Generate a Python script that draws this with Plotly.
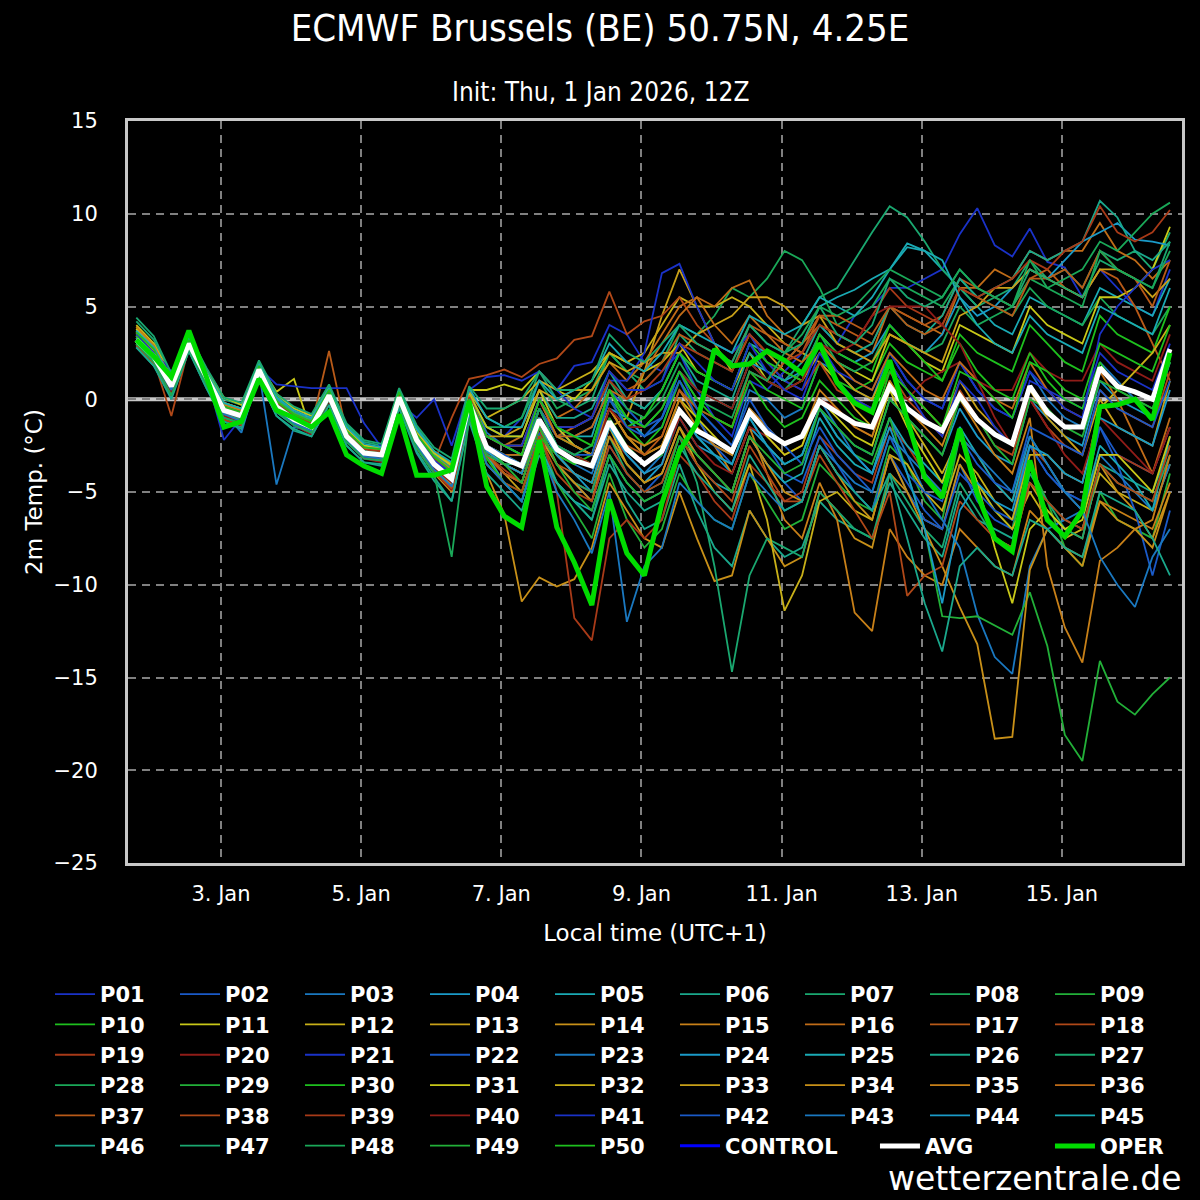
import pandas as pd
import plotly.graph_objects as go

# ECMWF ensemble 2m temperature, Brussels, init 1 Jan 2026 12Z (6-hourly, local time)
times = pd.date_range("2026-01-01 19:00", periods=60, freq="6h")

p01 = [3.4,2.5,0.9,3.1, 1.3,-0.5,-1.0,1.8, -0.2,-0.9,-1.3,0.5, -1.8,-2.7,-2.9,0.3, -1.9,-3.2,-4.0,0.2, -1.5,-2.0,-1.0,1.0, 0.5,1.8,2.0,4.0, 3.5,2.0,1.5,2.5, 0.5,-1.0,-2.0,1.0, 0.5,1.5,2.5,4.0, 3.0,4.5,5.0,6.0, 6.0,6.5,7.0,8.9, 10.3,8.3,7.7,9.2, 7.4,7.1,5.5,7.0, 6.0,5.0,4.5,7.0]
p02 = [3.0,2.2,0.5,2.9, 1.0,-1.2,-1.3,1.4, -0.7,-1.4,-1.8,0.0, -2.3,-3.2,-3.3,0.0, -2.5,-3.8,-4.8,-0.5, -3.0,-4.0,-4.5,-1.8, -3.5,-4.5,-5.5,-2.5, -4.0,-5.0,-4.0,-1.5, -3.0,-4.0,-5.0,-2.0, -3.5,-4.5,-5.5,-2.5, -4.0,-5.0,-6.0,-3.0, -4.5,-6.0,-7.0,-3.5, -5.5,-6.5,-7.0,-2.5, -4.0,-5.0,-5.5,-1.5, -3.0,-3.5,-4.0,-1.5]
p03 = [3.3,2.4,0.8,3.0, 1.1,-0.7,-1.8,1.5, -4.6,-1.5,-1.7,0.0, -2.1,-3.0,-3.1,0.2, -2.0,-3.3,-4.0,0.3, -1.8,-2.5,-3.0,-0.5, -2.0,-2.5,-3.0,0.0, -1.0,-2.0,-1.5,1.0, -0.5,-1.5,-2.5,0.5, 0.0,-1.0,-0.5,2.0, 1.5,0.5,0.0,2.5, 1.0,0.0,-0.5,2.0, 0.5,-0.5,-1.0,1.5, 0.0,-1.0,-1.5,2.0, 1.0,0.0,-1.0,2.5]
p04 = [3.1,2.1,0.4,2.8, 0.9,-0.8,-1.1,1.4, -0.5,-1.2,-1.6,0.1, -2.2,-3.1,-3.2,-0.1, -2.3,-3.6,-4.5,-0.5, -2.8,-3.5,-4.0,-1.5, -3.0,-4.0,-5.0,-2.0, -3.5,-4.5,-3.5,-1.0, -2.5,-3.0,-4.0,-1.5, -2.5,-3.5,-3.0,-0.5, -1.5,-2.5,-3.0,0.0, -1.0,-2.0,-3.0,-0.5, -2.0,-3.0,-3.5,0.0, -1.0,-2.0,-2.5,1.0, 0.0,-0.5,-1.0,2.0]
p05 = [3.6,2.7,1.1,3.3, 1.5,-0.3,-0.6,1.9, 0.0,-0.7,-1.1,0.5, -1.6,-2.5,-2.6,0.4, -1.8,-3.0,-3.8,0.4, -2.0,-2.5,-2.5,0.0, -1.5,-2.0,-2.0,1.0, 0.0,-0.5,0.5,2.5, 1.5,1.0,0.5,3.0, 2.5,2.0,3.0,5.0, 5.5,5.9,6.5,7.0, 8.4,8.0,7.0,6.0, 5.0,4.0,3.5,5.5, 5.0,4.5,4.0,6.0, 5.5,5.0,4.5,6.5]
p06 = [2.8,1.8,0.1,2.6, 0.6,-1.2,-1.5,1.1, -0.9,-1.7,-2.0,-0.3, -2.5,-3.4,-3.5,-0.4, -2.8,-4.2,-5.5,-1.0, -3.5,-4.5,-5.5,-2.5, -4.5,-5.5,-6.5,-3.0, -5.5,-7.0,-6.5,-3.5, -6.0,-8.0,-9.0,-6.0, -7.5,-8.5,-8.0,-5.5, -6.5,-7.0,-7.5,-4.5, -6.0,-7.5,-8.5,-5.0, -6.5,-7.0,-7.5,-4.5, -5.5,-6.5,-7.0,-3.5, -4.0,-4.5,-5.0,-2.5]
p07 = [4.2,3.2,1.3,3.4, 1.6,0.0,-0.3,2.0, 0.2,-0.5,-0.9,0.7, -1.4,-2.3,-2.5,0.5, -1.5,-2.8,-3.5,0.5, -1.0,-1.5,-1.0,1.5, 0.0,-0.5,0.0,2.5, 1.5,0.5,1.0,3.5, 2.5,2.0,1.5,4.0, 3.0,2.5,4.0,5.5, 6.0,7.5,9.0,10.4, 9.8,8.5,7.0,6.0, 5.0,5.5,6.0,7.5, 6.5,7.0,6.0,8.0, 7.5,8.0,7.0,9.0]
p08 = [3.0,2.0,0.3,2.7, 0.8,-1.0,-1.3,1.3, -0.6,-1.3,-1.7,0.1, -2.2,-3.0,-3.1,0.0, -2.1,-3.2,-3.8,0.0, -1.5,-1.5,-1.0,1.0, -0.5,0.0,0.5,2.5, 1.5,1.0,2.0,4.0, 3.5,4.5,6.0,5.5, 6.5,8.0,7.5,6.0, 4.0,4.5,5.0,6.5, 6.0,5.5,5.0,6.5, 5.5,5.0,4.5,6.0, 5.0,4.5,4.0,5.5, 4.5,4.0,3.5,5.0]
p09 = [3.3,2.3,0.6,3.0, 1.2,-0.7,-1.0,1.6, -0.3,-1.0,-1.4,0.3, -2.0,-2.9,-3.1,0.0, -2.4,-3.8,-4.6,-0.5, -3.5,-4.5,-5.5,-2.0, -4.5,-6.0,-7.5,-4.0, -6.5,-8.0,-7.0,-4.0, -5.5,-6.5,-7.0,-4.0, -5.5,-7.0,-6.5,-3.5, -4.5,-5.5,-6.0,-2.5, -3.5,-5.5,-6.5,-2.0, -4.5,-6.0,-7.0,-3.5, -5.5,-8.0,-9.0,-5.0, -6.5,-7.0,-7.5,-4.0]
p10 = [3.5,2.6,0.8,3.1, 1.4,-0.4,-0.7,1.8, -0.2,-0.9,-1.3,0.4, -1.9,-2.8,-3.0,0.2, -2.0,-3.4,-4.2,-0.3, -2.5,-3.0,-3.5,-0.5, -2.0,-2.5,-3.0,0.5, -1.5,-2.5,-1.5,1.0, -0.5,-1.0,-1.5,1.5, 0.5,0.0,-0.5,2.0, 1.0,0.5,1.0,3.0, 2.0,1.5,1.0,3.5, 2.5,2.0,1.5,4.0, 3.0,2.0,1.5,4.5, 3.5,3.0,2.5,5.0]
p11 = [4.0,3.0,1.2,3.3, 1.6,0.1,-0.3,1.9, 0.4,1.1,-1.8,0.3, -1.8,-2.7,-2.9,0.3, -1.9,-3.0,-3.5,0.5, 0.5,0.8,0.5,1.5, 0.5,0.0,1.0,2.5, 2.0,1.5,2.0,3.0, 1.5,1.0,0.5,2.5, 1.0,0.5,1.0,3.0, 2.0,1.5,1.0,3.5, 3.0,2.0,1.5,4.0, 3.5,3.0,2.5,5.0, 4.0,3.5,3.0,5.5, 5.5,6.0,7.0,9.3]
p12 = [3.8,2.8,1.0,3.2, 1.5,-0.2,-0.5,1.8, -0.1,-0.8,-1.2,0.5, -1.7,-2.6,-2.8,0.3, -1.8,-2.8,-3.5,0.4, -1.0,-0.5,0.0,1.0, 0.5,1.0,1.5,2.5, 2.0,2.5,4.0,5.5, 5.0,5.0,5.5,5.0, 4.0,3.0,2.5,2.0, 1.0,-0.5,-1.5,1.0, -1.0,-2.5,-4.0,-2.0, -4.5,-6.0,-7.0,-5.0, -6.5,-7.5,-7.0,-4.0, -5.0,-5.5,-6.0,-3.5]
p13 = [3.7,2.7,0.9,3.1, 1.3,-0.5,-0.8,1.7, -0.3,-1.0,-1.4,0.3, -1.9,-2.8,-2.9,0.2, -2.1,-3.5,-4.3,-0.3, -3.0,-4.0,-5.0,-2.0, -3.5,-4.5,-5.0,-1.5, -1.0,1.5,4.5,7.0, 5.0,3.0,1.5,3.5, 2.5,1.5,1.0,2.5, 1.5,0.5,0.0,2.0, 0.5,-0.5,-1.5,1.0, -0.5,-1.5,-2.5,0.5, -1.0,-2.0,-3.0,0.0, -1.5,-2.0,-2.5,1.0]
p14 = [3.9,2.9,1.0,3.2, 1.4,-0.4,-0.8,1.7, -0.3,-1.0,-1.5,0.3, -2.0,-2.9,-3.2,-0.2, -2.6,-4.0,-5.0,-1.0, -4.0,-6.2,-10.9,-9.6, -10.1,-9.7,-8.0,-4.5, -6.0,-7.5,-8.0,-5.0, -7.5,-9.8,-9.5,-6.0, -7.5,-9.0,-8.5,-5.0, -6.0,-7.5,-8.0,-4.0, -5.0,-6.5,-7.0,-3.5, -5.0,-7.5,-8.0,-4.5, -6.0,-7.0,-7.5,-3.5, -5.0,-6.0,-7.5,-5.0]
p15 = [3.6,2.5,0.7,3.0, 1.1,-0.7,-1.1,1.5, -0.5,-1.2,-1.6,0.1, -2.1,-3.0,-3.2,0.0, -2.4,-3.8,-4.6,-0.6, -3.0,-3.5,-4.0,-1.0, -2.5,-3.0,-3.5,-0.5, -2.0,-2.5,-2.0,0.5, -1.0,-2.5,-4.0,-1.5, -4.0,-6.5,-7.5,-4.5, -6.5,-11.5,-12.5,-7.0, -8.5,-9.5,-10.0,-7.0, -8.0,-9.0,-9.5,-6.0, -7.0,-8.0,-8.5,-5.5, -6.0,-6.5,-7.0,-4.5]
p16 = [3.4,2.4,0.6,3.0, 1.2,-0.6,-0.9,1.6, -0.4,-1.1,-1.5,0.2, -2.0,-2.9,-3.0,0.1, -2.2,-3.4,-4.1,-0.1, -2.0,-2.5,-2.0,0.5, -1.0,-0.5,0.5,2.0, 1.0,2.0,3.5,5.0, 5.5,5.0,6.0,6.4, 4.5,3.5,3.0,4.0, 3.5,3.0,2.5,5.0, 4.5,4.0,3.5,6.0, 6.0,7.0,6.5,8.0, 7.5,8.0,8.0,9.5, 8.0,7.5,6.5,7.5]
p17 = [3.5,2.6,0.8,3.1, 1.3,-0.5,-0.8,1.7, -0.3,-1.0,-1.4,2.6, -1.8,-2.7,-2.9,0.3, -2.0,-3.3,-4.0,0.0, -2.5,-3.0,-3.5,-0.5, -2.0,-1.5,-1.0,1.5, 0.5,1.0,2.0,3.5, 3.0,2.5,2.0,4.0, 3.5,3.0,2.5,4.5, 4.0,3.5,3.0,5.0, 4.5,4.0,4.5,6.5, 6.0,5.5,5.0,6.5, 7.0,6.0,5.5,7.0, 6.5,5.0,3.0,1.0]
p18 = [3.0,2.1,-0.9,2.8, 0.8,-1.0,-1.3,1.4, -0.6,-1.3,-1.8,0.0, -2.2,-3.1,-3.2,-0.1, -2.3,-3.4,-1.0,1.1, 1.3,1.6,1.2,1.9, 2.2,3.2,3.4,5.8, 3.5,4.2,4.5,5.5, 4.0,3.0,2.5,3.5, 2.0,1.0,0.5,2.0, 0.5,0.0,-0.5,1.5, 0.0,-1.0,-2.0,0.5, -1.0,-2.5,-3.0,0.0, -1.5,-2.5,-3.0,0.5, -0.5,-1.0,-1.5,1.5]
p19 = [3.2,2.2,0.5,2.9, 1.1,-0.8,-1.1,1.5, -0.5,-1.2,-1.6,0.1, -2.1,-3.0,-3.1,0.0, -2.4,-3.6,-4.4,-0.6, -3.0,-3.8,-4.5,-1.5, -5.0,-11.8,-13.0,-7.5, -6.5,-7.5,-6.5,-3.0, -4.0,-5.5,-6.5,-3.5, -4.5,-5.5,-5.0,-2.0, -3.0,-4.0,-4.5,-1.5, -2.5,-4.0,-5.0,-2.0, -3.0,-4.5,-5.5,-2.5, -3.5,-5.0,-6.0,-3.0, -3.0,-3.5,-4.0,-1.5]
p20 = [3.1,2.0,0.2,2.7, 0.7,-1.1,-1.4,1.3, -0.6,-1.4,-1.9,-0.1, -2.3,-3.2,-3.4,-0.2, -2.5,-3.9,-4.9,-0.8, -3.2,-4.0,-4.5,-1.5, -3.5,-4.5,-5.0,-2.0, -3.0,-4.0,-3.5,-1.0, -2.5,-3.5,-4.0,-1.5, -2.0,-3.0,-2.5,0.0, -0.5,-1.5,-2.0,0.5, 0.0,1.0,1.5,2.0, 1.0,0.5,0.5,2.5, 1.5,1.0,1.0,3.0, 2.0,1.5,1.0,3.5]
p21 = [3.4,2.6,1.5,3.0, 1.3,-0.4,-0.7,1.7, 0.8,0.7,0.6,0.6, 0.6,-1.3,-2.6,-0.2, -1.0,0.0,-2.5,0.5, 1.2,1.3,1.0,1.5, 0.5,-0.5,-1.0,1.0, 1.0,2.5,6.8,7.3, 5.0,3.0,2.5,3.5, 2.0,1.0,0.5,3.0, 1.5,1.0,0.5,2.5, 1.0,0.0,-0.5,2.0, 0.5,-0.5,-1.0,1.5, 0.5,0.0,-0.5,2.5, 1.5,1.0,0.5,3.0]
p22 = [3.3,2.4,0.7,3.1, 1.2,-0.6,-1.0,1.6, -0.4,-1.1,-1.5,0.2, -2.0,-2.9,-3.0,0.1, -2.1,-3.3,-4.2,-0.2, -2.5,-3.0,-3.0,-0.5, -2.0,-2.0,-1.5,0.5, -0.5,-1.5,-1.0,1.0, -1.0,-2.5,-3.5,-1.0, -2.5,-4.0,-4.5,-2.0, -3.5,-5.0,-6.0,-3.0, -5.0,-6.5,-7.0,-4.0, -5.0,-6.0,-6.5,-2.5, -4.0,-5.0,-5.5,-1.5, -3.5,-6.0,-9.5,-6.0]
p23 = [3.0,2.1,0.4,2.8, 0.9,-0.9,-1.2,1.4, -0.7,-1.4,-1.8,0.0, -2.3,-3.1,-3.3,-0.1, -2.5,-3.8,-4.6,-0.6, -3.0,-3.5,-4.0,-1.0, -3.0,-3.5,-4.0,-1.5, -3.0,-4.0,-3.0,-0.5, -2.0,-2.5,-3.0,-0.5, -1.5,-2.5,-2.0,0.0, -1.5,-3.0,-4.0,-1.0, -3.0,-5.0,-6.5,-8.0, -11.6,-13.9,-14.8,-9.0, -7.0,-6.5,-6.0,-3.0, -4.0,-5.0,-6.0,-3.5]
p24 = [3.6,2.7,1.0,3.2, 1.4,-0.4,-0.7,1.8, -0.2,-0.9,-1.3,0.4, -1.8,-2.7,-2.8,0.3, -2.0,-3.2,-3.9,0.1, -2.0,-2.5,-3.0,0.0, -1.5,-2.5,-3.0,-0.5, -1.0,-2.0,-1.0,1.5, 0.5,0.0,-0.5,2.0, 1.5,1.0,1.5,3.5, 2.5,2.0,2.5,4.0, 3.0,2.5,3.5,5.5, 4.5,5.0,6.0,7.0, 6.5,7.5,8.5,9.0, 9.5,8.6,8.5,8.3]
p25 = [2.9,2.0,0.3,2.7, 0.8,-1.0,-1.3,1.3, -0.6,-1.3,-1.8,0.0, -2.2,-3.1,-3.2,-0.2, -2.4,-3.7,-4.6,-0.5, -3.0,-4.5,-5.5,-2.5, -4.5,-5.5,-6.0,-3.0, -4.5,-5.5,-5.0,-2.0, -3.5,-4.5,-5.0,-2.0, -3.5,-4.5,-4.0,-1.0, -2.5,-3.5,-4.0,-1.0, -2.5,-3.5,-4.5,-1.5, -3.0,-4.5,-5.5,-2.0, -3.5,-5.0,-6.0,-2.5, -3.5,-4.5,-6.0,-2.0]
p26 = [3.7,2.8,1.1,3.3, 1.5,-0.3,-0.6,1.9, 0.0,-0.7,-1.1,0.5, -1.6,-2.5,-2.7,0.4, -1.7,-3.0,-3.7,0.3, -1.5,-2.0,-2.0,0.5, -1.0,-1.0,-0.5,1.5, 0.0,-0.5,0.5,2.5, 1.0,0.5,0.0,2.5, 1.5,1.0,2.0,4.0, 3.0,2.5,3.0,5.0, 4.0,3.5,4.5,6.5, 5.5,6.0,6.5,8.0, 7.5,8.0,8.5,10.7, 9.8,8.0,7.5,8.5]
p27 = [3.1,2.2,0.5,2.9, 1.0,-0.8,-1.1,1.5, -0.5,-1.2,-1.6,0.1, -2.1,-3.0,-3.2,0.0, -2.3,-3.6,-4.5,-0.5, -3.0,-3.5,-4.0,-1.5, -3.5,-4.5,-5.0,-2.0, -4.0,-5.0,-4.5,-2.0, -4.5,-9.0,-14.7,-9.5, -7.5,-8.0,-8.5,-5.0, -6.0,-7.0,-7.5,-4.0, -5.5,-7.0,-8.0,-4.5, -6.0,-7.5,-8.0,-4.0, -5.5,-7.0,-7.5,-3.5, -4.5,-5.0,-5.5,-3.0]
p28 = [3.3,2.3,0.6,2.9, 1.1,-0.7,-1.0,1.5, -0.4,-1.1,-1.5,0.2, -2.0,-2.9,-3.0,0.1, -2.2,-3.5,-4.3,-0.2, -2.5,-3.0,-3.0,0.0, -1.5,-1.5,-1.0,1.0, -0.5,-1.0,0.0,2.0, 0.5,0.0,-0.5,2.0, 1.0,0.5,1.5,3.5, 2.0,1.5,2.0,4.0, 3.0,2.5,3.0,5.0, 4.0,4.5,5.0,6.5, 6.0,6.5,7.0,8.5, 8.0,9.0,10.0,10.6]
p29 = [3.4,2.5,0.8,3.1, 1.3,-0.5,-0.8,1.7, -0.3,-1.0,-1.4,0.3, -1.9,-2.8,-2.9,0.2, -2.1,-3.4,-4.2,-0.2, -2.5,-3.0,-3.5,-0.5, -2.5,-3.0,-3.5,-1.0, -2.5,-3.5,-3.0,-0.5, -2.0,-3.0,-3.5,-1.0, -2.5,-3.5,-3.0,-0.5, -2.0,-3.0,-3.5,-1.0, -4.0,-7.0,-11.7,-11.8, -11.7,-12.2,-12.7,-10.4, -13.3,-18.1,-19.5,-14.1, -16.3,-17.0,-15.9,-15.0]
p30 = [3.0,2.0,0.3,2.7, 0.9,-0.9,-1.2,1.4, -0.6,-1.3,-1.7,0.1, -2.2,-3.1,-3.2,-0.1, -2.5,-3.9,-4.7,-0.7, -3.2,-4.5,-5.0,-2.0, -3.0,-3.5,-3.0,0.0, -1.5,-1.0,0.5,2.5, 1.5,1.0,0.5,3.0, 2.0,1.5,1.0,3.5, 2.5,2.0,1.5,4.0, 3.0,2.0,1.0,3.0, 1.5,0.5,0.0,2.5, 1.0,0.0,-0.5,2.0, 0.5,0.0,-0.5,2.0]
p31 = [3.8,2.8,1.0,3.2, 1.5,-0.2,-0.5,1.8, 0.3,-0.5,-0.9,0.6, -1.6,-2.5,-2.6,0.4, -1.8,-2.9,-3.6,0.3, -1.5,-2.0,-2.0,0.5, -1.5,-2.5,-3.0,-0.5, -2.0,-3.0,-2.5,0.0, -1.0,-2.0,-3.0,-0.5, -2.0,-3.0,-2.5,0.0, -1.0,-2.0,-2.5,0.5, -1.5,-3.0,-4.5,-2.0, -4.5,-8.0,-11.0,-7.0, -6.0,-7.0,-6.5,-3.0, -3.0,-4.0,-5.0,-2.0]
p32 = [3.6,2.6,0.8,3.1, 1.3,-0.5,-0.9,1.6, -0.4,-1.1,-1.5,0.2, -2.0,-2.9,-3.1,0.0, -2.2,-3.5,-4.4,-0.4, -3.0,-3.5,-4.0,-1.0, -3.0,-4.0,-4.5,-1.5, -3.5,-4.5,-4.0,-1.5, -3.5,-5.0,-6.0,-3.5, -6.5,-11.4,-9.5,-5.5, -5.0,-6.0,-6.5,-3.0, -3.5,-5.0,-6.0,-3.0, -4.0,-5.5,-6.5,-3.0, -3.0,-4.0,-4.5,-0.5, 0.5,1.5,2.5,4.0]
p33 = [3.5,2.5,0.7,3.0, 1.2,-0.6,-1.0,1.6, -0.5,-1.2,-1.6,0.1, -2.1,-3.0,-3.1,0.1, -2.3,-3.5,-4.3,-0.3, -2.0,-2.0,-1.5,0.5, 0.0,0.5,0.5,2.0, 1.5,2.0,2.5,2.5, 3.5,4.0,4.5,5.5, 5.5,5.0,4.0,4.5, 3.0,2.5,2.0,3.5, 3.0,2.5,2.0,4.5, 5.0,6.0,6.0,7.0, 6.5,6.0,5.5,7.0, 7.0,6.5,5.5,6.5]
p34 = [3.2,2.2,0.5,2.9, 1.0,-0.8,-1.2,1.5, -0.5,-1.2,-1.6,0.1, -2.1,-3.0,-3.2,-0.1, -2.4,-3.7,-4.6,-0.6, -3.0,-4.0,-4.5,-1.5, -3.5,-4.5,-5.5,-2.0, -3.5,-4.5,-4.0,-1.5, -3.0,-4.0,-5.0,-2.0, -3.5,-5.0,-5.5,-2.5, -4.0,-5.5,-6.5,-3.0, -5.0,-7.0,-9.0,-11.2, -13.2,-18.3,-18.2,-9.2, -7.0,-8.0,-9.0,-5.5, -6.5,-7.0,-8.0,-5.0]
p35 = [3.9,2.9,1.1,3.3, 1.5,-0.3,-0.6,1.8, -0.1,-0.8,-1.2,0.5, -1.7,-2.6,-2.8,0.3, -1.9,-3.1,-3.8,0.2, -2.0,-2.5,-2.5,0.0, -2.0,-2.5,-3.0,-0.5, -2.0,-3.0,-2.5,0.0, -1.5,-2.5,-3.0,-0.5, -1.5,-2.5,-2.0,0.5, -0.5,-1.5,-2.0,1.0, -0.5,-1.5,-2.5,0.0, -1.5,-3.0,-4.0,-1.0, -9.0,-12.3,-14.2,-8.7, -8.0,-7.0,-6.5,-3.0]
p36 = [3.4,2.4,0.6,3.0, 1.2,-0.6,-0.9,1.6, -0.4,-1.1,-1.5,0.2, -2.0,-2.9,-3.0,0.1, -2.2,-3.5,-4.3,-0.2, -2.5,-3.0,-3.0,0.0, -2.0,-2.0,-1.5,0.5, 0.0,1.5,3.0,4.5, 5.5,4.0,3.0,4.5, 3.5,2.5,2.0,3.0, 2.0,1.0,0.5,2.5, 1.5,0.5,0.0,2.0, 1.0,0.0,-0.5,2.0, 0.5,-0.5,-1.0,1.5, 0.0,-2.0,-4.0,-1.0]
p37 = [3.3,2.3,0.6,3.0, 1.2,-0.7,-1.0,1.5, -0.4,-1.1,-1.5,0.2, -2.0,-2.9,-3.1,0.0, -2.3,-3.6,-4.4,-0.4, -3.0,-4.0,-4.5,-1.5, -3.5,-4.0,-4.5,-1.5, -2.5,-3.0,-2.0,0.5, -0.5,-1.0,-1.5,1.5, 1.0,2.0,3.0,4.5, 4.5,4.0,3.5,5.0, 4.0,3.5,4.0,6.0, 5.5,5.0,4.5,6.5, 6.5,7.0,6.0,8.0, 7.0,6.5,5.0,7.5]
p38 = [2.9,1.9,0.2,2.7, 0.7,-1.1,-1.4,1.3, -0.6,-1.3,-1.8,0.0, -2.2,-3.1,-3.3,-0.2, -2.5,-3.9,-4.8,-0.8, -3.5,-4.5,-5.0,-2.0, -4.0,-5.0,-5.5,-2.5, -4.0,-5.0,-4.5,-2.0, -3.5,-4.5,-5.5,-2.5, -4.0,-5.5,-5.5,-3.0, -4.5,-6.0,-7.5,-5.0, -10.6,-9.5,-9.0,-5.5, -6.5,-7.5,-8.0,-4.5, -5.5,-6.5,-7.0,-3.5, -4.5,-5.0,-5.5,-2.5]
p39 = [3.6,2.7,0.9,3.1, 1.4,-0.4,-0.7,1.8, -0.2,-0.9,-1.3,0.4, -1.8,-2.7,-2.8,0.3, -1.9,-3.2,-3.9,0.1, -2.0,-2.5,-2.5,0.0, -1.5,-1.5,-1.0,1.0, 0.0,0.5,1.5,3.0, 2.5,2.0,1.5,3.5, 2.5,2.0,2.5,4.0, 3.5,3.0,4.5,6.0, 5.0,4.5,4.0,6.0, 5.5,6.0,6.5,7.5, 7.0,8.0,8.5,10.4, 9.0,8.5,9.0,10.2]
p40 = [3.1,2.1,0.4,2.8, 0.9,-0.9,-1.2,1.4, -0.6,-1.3,-1.7,0.1, -2.2,-3.1,-3.2,-0.1, -2.4,-3.7,-4.5,-0.5, -2.8,-3.5,-4.0,-1.0, -2.5,-3.0,-3.5,-0.5, -1.5,-1.5,-0.5,1.5, 0.5,0.0,-0.5,2.0, 1.0,0.5,1.0,3.0, 2.5,3.0,4.5,5.0, 5.0,5.0,4.0,3.0, 1.0,-1.0,-2.5,0.0, -1.5,-3.0,-4.0,-1.0, -2.0,-3.0,-4.0,-1.5]
p41 = [3.5,2.5,0.8,3.1, 1.3,-2.2,-1.0,1.6, -0.3,-1.0,-1.4,0.3, -1.9,-2.8,-3.0,0.1, -2.0,-3.3,-4.0,0.0, -2.0,-2.5,-2.5,0.0, -1.5,-1.5,-1.0,1.5, 0.5,0.5,1.0,3.0, 2.0,1.0,0.5,3.0, 1.5,0.5,0.0,2.5, 1.0,0.0,-0.5,2.0, 0.5,-1.0,-2.0,1.0, 0.0,-1.5,-2.5,1.0, 0.5,-0.5,-1.0,3.5, 5.0,6.0,7.0,7.5]
p42 = [3.2,2.3,0.6,3.0, 1.1,-0.7,-1.0,1.5, -0.5,-1.2,-1.6,0.1, -2.1,-3.0,-3.1,0.0, -2.3,-3.6,-4.4,-0.4, -2.5,-3.0,-3.5,-0.5, -2.5,-3.0,-3.0,0.0, -1.5,-2.0,-1.0,1.5, -0.5,-1.5,-2.5,0.0, -1.5,-2.5,-3.5,-1.5, -3.0,-4.0,-5.0,-2.0, -4.0,-5.0,-5.5,-2.0, -3.5,-4.5,-5.0,-1.5, -2.0,-2.5,-3.0,0.5, -0.5,-1.0,-1.5,1.0]
p43 = [3.1,2.1,0.5,2.8, 1.0,-0.8,-1.2,1.4, -0.6,-1.3,-1.7,0.1, -2.2,-3.1,-3.2,-0.1, -2.5,-3.8,-4.7,-0.8, -3.5,-4.5,-5.5,-2.5, -5.0,-6.5,-8.3,-5.0, -12.0,-9.0,-8.0,-4.5, -5.5,-6.5,-7.0,-4.0, -5.0,-6.0,-5.5,-2.5, -3.5,-4.5,-5.0,-2.0, -3.0,-4.0,-5.0,-2.0, -3.0,-4.0,-5.0,-2.0, -3.5,-5.0,-6.0,-8.5, -10.0,-11.2,-8.5,-7.0]
p44 = [3.3,2.4,0.7,3.0, 1.2,-0.6,-0.9,1.6, -0.4,-1.1,-1.5,0.2, -2.0,-2.9,-3.0,0.1, -2.2,-3.5,-4.3,-0.3, -2.8,-3.5,-4.0,-1.0, -3.0,-4.0,-4.5,-1.5, -3.0,-4.0,-3.5,-0.5, -2.0,-3.0,-3.5,-1.0, -2.5,-3.5,-3.0,-0.5, -2.0,-3.0,-4.0,-1.5, -4.0,-7.0,-11.0,-6.0, -4.5,-5.5,-6.0,-2.5, -3.0,-4.0,-4.5,-1.0, -1.5,-2.0,-2.5,0.5]
p45 = [3.7,2.8,1.1,3.3, 1.5,-0.2,-0.5,1.9, 0.1,-0.6,-1.0,0.6, -1.5,-2.4,-2.6,0.5, -1.6,-2.8,-3.4,0.6, -1.0,-1.5,-1.5,1.0, 0.0,0.5,1.0,3.0, 2.0,1.5,2.5,4.0, 3.5,3.0,2.5,4.5, 4.0,3.5,4.0,5.5, 5.0,4.5,5.5,7.0, 8.2,8.0,7.5,5.5, 4.0,3.0,2.5,4.5, 3.5,3.0,2.5,5.0, 4.5,4.0,3.5,6.0]
p46 = [2.8,1.8,0.0,2.6, 0.6,-1.2,-1.6,1.1, -0.9,-1.6,-2.0,-0.3, -2.5,-3.4,-3.6,-0.5, -2.9,-4.4,-5.5,-1.2, -4.0,-5.0,-6.0,-3.0, -4.5,-5.5,-6.5,-3.5, -5.0,-6.0,-5.5,-2.5, -4.0,-5.0,-6.0,-3.0, -4.5,-6.0,-5.5,-2.5, -4.0,-5.0,-6.0,-4.0, -7.5,-11.0,-13.6,-9.0, -8.0,-9.0,-9.5,-6.5, -7.0,-8.0,-8.5,-5.0, -5.5,-6.0,-7.5,-9.5]
p47 = [4.4,3.4,1.4,3.5, 1.7,0.1,-0.2,2.1, 0.3,-0.4,-0.8,0.8, -1.3,-2.2,-2.4,0.6, -1.4,-2.6,-3.2,0.7, -0.5,-0.5,0.0,1.5, 0.5,0.5,1.0,3.5, 2.5,2.0,3.0,4.0, 3.0,2.5,2.0,4.0, 3.0,2.5,3.0,5.0, 3.5,3.0,4.0,6.5, 5.5,5.0,5.5,7.0, 6.0,5.5,5.0,7.0, 6.5,6.0,5.5,7.5, 7.0,6.5,6.0,8.5]
p48 = [3.0,2.0,0.2,2.7, 0.8,-1.0,-1.3,1.3, -0.7,-1.4,-1.8,0.0, -2.3,-3.2,-3.3,-0.2, -2.6,-4.0,-8.5,-1.0, -3.0,-3.5,-3.5,-0.5, -2.5,-3.0,-2.5,0.5, -1.0,-1.5,-0.5,1.5, 0.0,-0.5,-1.0,1.5, 1.0,2.5,3.5,5.0, 4.5,5.0,6.0,7.0, 6.5,6.0,5.5,7.0, 6.0,5.5,5.0,7.5, 6.0,5.5,5.0,8.0, 7.0,6.5,6.0,8.0]
p49 = [3.4,2.4,0.7,3.0, 1.2,-0.6,-0.9,1.6, -0.3,-1.0,-1.4,0.3, -1.9,-2.8,-3.0,0.1, -2.1,-3.4,-4.2,-0.2, -2.5,-3.5,-4.5,-1.5, -3.5,-5.0,-6.0,-3.0, -4.5,-5.5,-5.0,-2.0, -3.0,-4.0,-5.0,-2.0, -3.0,-4.0,-3.5,-0.5, -1.5,-2.5,-3.0,0.0, -1.0,-2.0,-3.0,0.0, -1.0,-2.5,-3.5,0.0, -0.5,-1.5,-2.0,1.0, 0.5,0.0,-0.5,2.0]
p50 = [3.6,2.7,0.9,3.2, 1.4,-0.4,-0.7,1.8, -0.1,-0.8,-1.2,0.5, -1.7,-2.6,-2.7,0.4, -1.9,-3.1,-3.9,0.0, -2.0,-2.5,-3.0,0.0, -1.5,-2.0,-2.5,0.5, -1.0,-1.5,-0.5,1.5, 0.0,-1.0,-1.5,1.0, -0.5,-1.5,-1.0,1.0, 0.0,-1.0,-1.5,1.5, 0.5,-0.5,-1.5,1.5, 1.0,0.0,-1.0,2.0, 1.5,0.5,0.0,3.0, 2.5,2.0,1.5,4.0]

# no separate control curve can be made out in the picture: gaps only, legend entry kept
control = [None] * len(times)
avg = [3.2,2.3,0.7,3.0, 1.2,-0.6,-0.9,1.6, -0.4,-1.1,-1.5,0.2, -2.0,-2.9,-3.0,0.1, -2.2,-3.5,-4.3,-0.2, -2.6,-3.2,-3.6,-1.1, -2.7,-3.3,-3.6,-1.2, -2.7,-3.5,-2.8,-0.6, -1.7,-2.2,-2.8,-0.7, -1.8,-2.4,-2.0,-0.1, -0.7,-1.3,-1.5,0.7, -0.5,-1.2,-1.7,0.2, -1.1,-1.9,-2.4,0.7, -0.7,-1.5,-1.5,1.7, 0.7,0.4,0.0,2.7]
oper = [3.2,2.3,1.2,3.7, 1.2,-1.5,-1.2,1.1, -0.6,-1.0,-1.5,-0.7, -3.0,-3.6,-4.0,-0.8, -4.1,-4.1,-3.8,-0.1, -4.7,-6.3,-6.9,-2.2, -6.9,-8.8,-11.1,-5.4, -8.3,-9.5,-5.6,-2.8, -1.3,2.7,1.8,1.9, 2.6,2.1,1.4,3.0, 0.9,-0.2,-0.7,2.1, -1.1,-4.2,-5.3,-1.6, -5.1,-7.5,-8.2,-3.3, -6.5,-7.4,-6.0,-0.4, -0.3,0.0,-1.1,2.5]

members = [p01, p02, p03, p04, p05, p06, p07, p08, p09, p10,
           p11, p12, p13, p14, p15, p16, p17, p18, p19, p20,
           p21, p22, p23, p24, p25, p26, p27, p28, p29, p30,
           p31, p32, p33, p34, p35, p36, p37, p38, p39, p40,
           p41, p42, p43, p44, p45, p46, p47, p48, p49, p50]

# colour cycle repeats every 20 members: blue -> cyan -> green -> yellow -> orange -> dark red
palette = ['#1a32c8', '#1a5ac8', '#1a78c0', '#1a9ac8', '#1aaab4',
           '#1aa88c', '#1aa870', '#1aa858', '#22b038', '#1ec01e',
           '#c8c818', '#c8b018', '#c8a018', '#c89018', '#c88018',
           '#c06c18', '#b85a18', '#b04818', '#a83a18', '#901c18']

fig = go.Figure()

for i, vals in enumerate(members):
    fig.add_trace(go.Scatter(x=times, y=vals, name=f"P{i + 1:02d}", mode="lines",
                             line=dict(color=palette[i % 20], width=1.8),
                             legendrank=1000 + i))

fig.add_trace(go.Scatter(x=times, y=control, name="CONTROL", mode="lines",
                         line=dict(color="#0000ff", width=3), legendrank=1051))
fig.add_trace(go.Scatter(x=times, y=avg, name="AVG", mode="lines",
                         line=dict(color="white", width=5), legend="legend2",
                         legendwidth=120))
fig.add_trace(go.Scatter(x=times, y=oper, name="OPER", mode="lines",
                         line=dict(color="#00dc00", width=5), legend="legend2"))

# solid band under the dashed zero gridline
fig.add_shape(type="line", xref="paper", x0=0, x1=1, yref="y", y0=0, y1=0,
              line=dict(color="#c8c8c8", width=4), layer="below")

grid = dict(showgrid=True, gridcolor="#808080", gridwidth=1.5, griddash="8px,6px",
            zeroline=False, showline=True, mirror=True, linecolor="#c8c8c8",
            linewidth=3, ticks="", automargin=False)

cond = "DejaVu Sans Condensed, DejaVu Sans"
legend_font = dict(family="DejaVu Sans", size=21, color="white", weight="bold")

fig.update_layout(
    width=1200, height=1200,
    paper_bgcolor="black", plot_bgcolor="black",
    margin=dict(l=128, r=18, t=121, b=337, autoexpand=False),
    font=dict(family="DejaVu Sans", color="white", size=21),
    showlegend=True,
    title=dict(text="ECMWF Brussels (BE) 50.75N, 4.25E", x=0.5, xref="container",
               xanchor="center", y=1 - 28 / 1200, yanchor="middle",
               font=dict(family=cond, size=38, color="white")),
    xaxis=dict(type="date", range=["2026-01-01 16:09", "2026-01-16 17:07"],
               tick0="2026-01-03", dtick=2 * 86400000, tickformat="%-d. %b",
               tickfont=dict(size=21), ticklabelstandoff=10,
               title=dict(text="Local time (UTC+1)", font=dict(size=23), standoff=20),
               **grid),
    yaxis=dict(range=[-25, 15], tick0=0, dtick=5, tickfont=dict(size=21),
               ticklabelstandoff=23,
               title=dict(text="2m Temp. (°C)", font=dict(size=23), standoff=5),
               **grid),
    legend=dict(orientation="h", x=-0.0740, xanchor="left", y=-0.1496, yanchor="top",
                itemwidth=40, entrywidth=70, entrywidthmode="pixels",
                bgcolor="rgba(0,0,0,0)", tracegroupgap=0, font=legend_font),
    legend2=dict(orientation="h", x=0.7087, xanchor="left", y=-0.3544, yanchor="top",
                 itemwidth=40, bgcolor="rgba(0,0,0,0)", font=legend_font),
    annotations=[
        dict(text="Init: Thu, 1 Jan 2026, 12Z", xref="paper", yref="paper",
             x=(600 - 128) / 1054, y=(863 - 92) / 742, xanchor="center", yanchor="middle",
             showarrow=False, font=dict(family=cond, size=26, color="white")),
        dict(text="wetterzentrale.de", xref="paper", yref="paper",
             x=(1184 - 128) / 1054, y=(863 - 1178) / 742, xanchor="right", yanchor="middle",
             showarrow=False, font=dict(family="DejaVu Sans", size=33, color="white")),
    ],
)

# page body margin off so the figure sits at the window's top-left corner
fig.write_html("out.html", config={"displayModeBar": False},
               post_script="document.body.style.margin='0px';"
                           "document.body.style.backgroundColor='black';")
